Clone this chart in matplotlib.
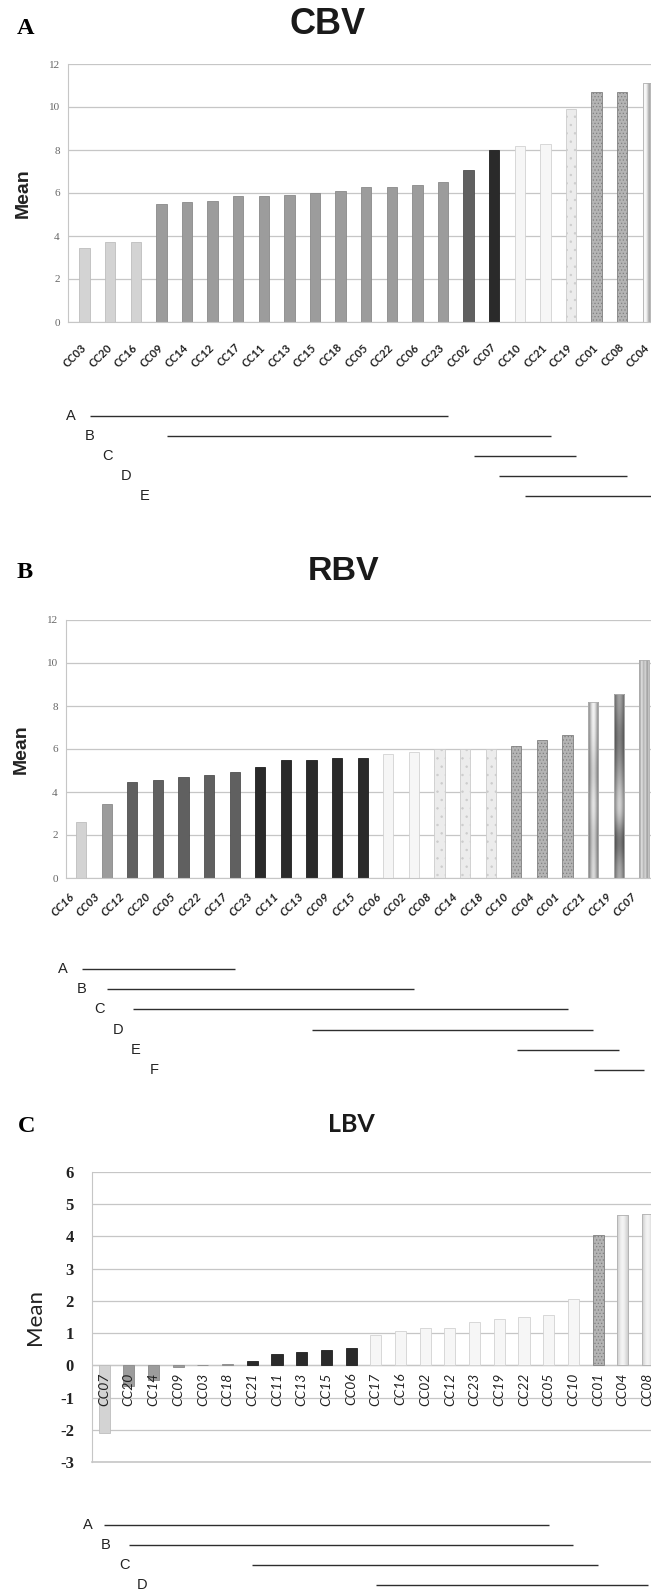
"""
CBV / RBV / LBV mean values per category, with homogeneous subset lines below.
"""

import numpy as np
import matplotlib.pyplot as plt
from matplotlib import transforms

# ── Data ──────────────────────────────────────────────────────
cbv_cats = ["CC03", "CC20", "CC16", "CC09", "CC14", "CC12", "CC17", "CC11",
            "CC13", "CC15", "CC18", "CC05", "CC22", "CC06", "CC23", "CC02",
            "CC07", "CC10", "CC21", "CC19", "CC01", "CC08", "CC04"]
cbv_vals = [3.45, 3.70, 3.72, 5.48, 5.60, 5.65, 5.84, 5.88, 5.93, 6.02, 6.10,
            6.29, 6.30, 6.38, 6.50, 7.07, 8.00, 8.20, 8.28, 9.92, 10.68, 10.72,
            11.10]
cbv_tone = ["light"] * 3 + ["mid"] * 12 + ["dark", "black", "white", "white",
                                          "marble", "speckle", "speckle", "hgrad"]
cbv_subsets = [("A", "CC03", "CC23"), ("B", "CC09", "CC21"), ("C", "CC02", "CC19"),
               ("D", "CC07", "CC08"), ("E", "CC10", "CC04")]

rbv_cats = ["CC16", "CC03", "CC12", "CC20", "CC05", "CC22", "CC17", "CC23",
            "CC11", "CC13", "CC09", "CC15", "CC06", "CC02", "CC08", "CC14",
            "CC18", "CC10", "CC04", "CC01", "CC21", "CC19", "CC07"]
rbv_vals = [2.61, 3.46, 4.47, 4.55, 4.72, 4.81, 4.92, 5.17, 5.51, 5.51, 5.56,
            5.56, 5.79, 5.85, 6.01, 6.01, 6.01, 6.13, 6.44, 6.66, 8.20, 8.54,
            10.14]
rbv_tone = ["light", "mid"] + ["dark"] * 5 + ["black"] * 5 + ["white"] * 2 + \
           ["marble"] * 3 + ["speckle"] * 3 + ["hgrad2", "vgrad", "stripes"]
rbv_subsets = [("A", "CC16", "CC17"), ("B", "CC03", "CC02"), ("C", "CC12", "CC01"),
               ("D", "CC13", "CC21"), ("E", "CC10", "CC19"), ("F", "CC21", "CC07")]

lbv_cats = ["CC07", "CC20", "CC14", "CC09", "CC03", "CC18", "CC21", "CC11",
            "CC13", "CC15", "CC06", "CC17", "CC16", "CC02", "CC12", "CC23",
            "CC19", "CC22", "CC05", "CC10", "CC01", "CC04", "CC08"]
lbv_vals = [-2.10, -0.65, -0.45, -0.05, 0.0, 0.03, 0.12, 0.36, 0.40, 0.47, 0.54,
            0.95, 1.08, 1.16, 1.16, 1.34, 1.44, 1.50, 1.56, 2.06, 4.03, 4.67, 4.70]
lbv_tone = ["light", "mid", "mid", "mid", "mid", "mid"] + ["black"] * 5 + \
           ["white"] * 9 + ["speckle", "hgrad3", "hgrad3"]
lbv_subsets = [("A", "CC07", "CC05"), ("B", "CC20", "CC10"),
               ("C", "CC21", "CC01"), ("D", "CC17", "CC08")]

# ── Styles ────────────────────────────────────────────────────
W, H = 651, 1593
GRID = "#c6c6c6"
STYLES = {
    "light":   dict(fc="#d3d3d3", ec="#bdbdbd", hatch=None),
    "mid":     dict(fc="#9c9c9c", ec="#8a8a8a", hatch=None),
    "dark":    dict(fc="#606060", ec="#505050", hatch=None),
    "black":   dict(fc="#2a2a2a", ec="#1e1e1e", hatch=None),
    "white":   dict(fc="#f6f6f6", ec="#d2d2d2", hatch=None),
    "marble":  dict(fc="#ececec", ec="#cccccc", hatch=".."),
    "speckle": dict(fc="#b4b4b4", ec="#808080", hatch="....."),
}
# grey level profiles (across, along) for the shaded bars
GRADS = {
    "hgrad":   ([0.95, 1.0, 0.85, 0.6, 0.8, 0.95], [1.0]),
    "hgrad2":  ([0.55, 0.85, 1.0, 0.85, 0.55], [0.9, 0.8, 1.0, 0.8, 0.95, 1.0]),
    "vgrad":   ([0.6, 0.85, 0.95, 0.85, 0.6], [0.75, 0.35, 1.0, 0.8, 0.6, 0.5, 0.7]),
    "stripes": ([0.55, 1.0, 0.6, 0.95, 0.5, 0.9], [1.0]),
    "hgrad3":  ([0.82, 0.93, 0.97, 0.9, 0.8], [1.0]),
}

plt.rcParams["hatch.linewidth"] = 0.5
plt.rcParams["axes.unicode_minus"] = False

fig = plt.figure(figsize=(W / 100, H / 100), dpi=100)


def px_axes(left, top, bottom, xmin, xmax, spacing):
    width = (xmax - xmin) * spacing
    ax = fig.add_axes([left / W, 1 - bottom / H, width / W, (bottom - top) / H])
    ax.set_xlim(xmin, xmax)
    return ax


def draw_bars(ax, vals, tones, width):
    x = np.arange(len(vals))
    bars = ax.bar(x, vals, width=width, linewidth=0.6, zorder=2)
    xl, yl = ax.get_xlim(), ax.get_ylim()
    for b, t in zip(bars, tones):
        if t in STYLES:
            st = STYLES[t]
            b.set_facecolor(st["fc"])
            b.set_edgecolor(st["ec"])
            if st["hatch"]:
                b.set_hatch(st["hatch"])
        else:
            across, along = GRADS[t]
            img = np.outer(along, across)
            b.set_facecolor("none")
            b.set_edgecolor("#b0b0b0")
            bx, by = b.get_x(), b.get_y()
            im = ax.imshow(img, extent=[bx, bx + b.get_width(), by, by + b.get_height()],
                           origin="lower", cmap="gray", vmin=0, vmax=1, aspect="auto",
                           interpolation="bicubic", zorder=1.9)
            im.set_clip_path(b)
    ax.set_xlim(xl)
    ax.set_ylim(yl)


def style_frame(ax):
    ax.set_axisbelow(True)
    ax.grid(axis="y", color=GRID, linewidth=0.9)
    for s in ("top", "right"):
        ax.spines[s].set_visible(False)
    ax.spines["left"].set_color(GRID)
    ax.spines["bottom"].set_color(GRID)
    ax.tick_params(length=0)


def draw_subsets(ax, cats, subsets, y0, dy, lx0, ldx, off0, off1):
    trans = transforms.blended_transform_factory(ax.transData, fig.transFigure)
    for i, (name, c0, c1) in enumerate(subsets):
        y = y0 + dy * i
        x0 = cats.index(c0) + off0
        x1 = cats.index(c1) + off1
        ax.plot([x0, x1], [1 - y / H, 1 - y / H], transform=trans, color="#2e2e2e",
                linewidth=1.0, clip_on=False, solid_capstyle="butt")
        fig.text((lx0 + ldx * i) / W, 1 - y / H, name, ha="center", va="center",
                 fontsize=10.5, family="Liberation Sans", color="#222222")


# ── Panel A : CBV ─────────────────────────────────────────────
ax = px_axes(68, 64, 322, -0.65, 22.6, 25.6)
ax.set_ylim(0, 12)
ax.set_yticks(np.arange(0, 13, 2))
style_frame(ax)
draw_bars(ax, cbv_vals, cbv_tone, 0.41)
ax.set_xticks(np.arange(len(cbv_cats)))
ax.set_xticklabels(cbv_cats, rotation=45, ha="right", va="center",
                   rotation_mode="anchor", fontsize=8, fontweight="bold",
                   family="Lato", color="#222222")
ax.tick_params(axis="x", pad=17)
ax.tick_params(axis="y", pad=6, labelsize=8, labelcolor="#666666")
for lab in ax.get_yticklabels():
    lab.set_family("Liberation Serif")
fig.text(26 / W, 1 - 28 / H, "A", ha="center", va="center", fontsize=17.5,
         fontweight="bold", family="Liberation Serif")
fig.text(328 / W, 1 - 25 / H, "CBV", ha="center", va="center", fontsize=26,
         fontweight="bold", family="Liberation Sans", color="#1a1a1a")
fig.text(23 / W, 1 - 193 / H, "Mean", ha="center", va="center", rotation=90,
         fontsize=14, fontweight="bold", family="Liberation Sans", color="#222222")
draw_subsets(ax, cbv_cats, cbv_subsets, 416, 20, 71, 18.3, 0.2, 0.2)

# ── Panel B : RBV ─────────────────────────────────────────────
ax = px_axes(66, 620, 878, -0.59, 22.6, 25.6)
ax.set_ylim(0, 12)
ax.set_yticks(np.arange(0, 13, 2))
style_frame(ax)
draw_bars(ax, rbv_vals, rbv_tone, 0.40)
ax.set_xticks(np.arange(len(rbv_cats)))
ax.set_xticklabels(rbv_cats, rotation=45, ha="right", va="center",
                   rotation_mode="anchor", fontsize=8.5, fontweight="bold",
                   style="italic", family="Lato", color="#222222")
ax.tick_params(axis="x", pad=12)
for lab in ax.get_xticklabels():
    lab.set_transform(lab.get_transform() +
                      transforms.ScaledTranslation(-0.09, 0, fig.dpi_scale_trans))
ax.tick_params(axis="y", pad=6, labelsize=8, labelcolor="#666666")
for lab in ax.get_yticklabels():
    lab.set_family("Liberation Serif")
fig.text(25 / W, 1 - 572 / H, "B", ha="center", va="center", fontsize=17.5,
         fontweight="bold", family="Liberation Serif")
fig.text(344 / W, 1 - 571 / H, "RBV", ha="center", va="center", fontsize=24.5,
         fontweight="bold", family="Liberation Sans", color="#1a1a1a")
fig.text(21 / W, 1 - 749 / H, "Mean", ha="center", va="center", rotation=90,
         fontsize=14, fontweight="bold", family="Liberation Sans", color="#222222")
draw_subsets(ax, rbv_cats, rbv_subsets, 969, 20.2, 63, 18.2, 0.03, 0.0)

# ── Panel C : LBV ─────────────────────────────────────────────
ax = px_axes(92, 1172, 1462, -0.49, 22.6, 24.7)
ax.set_ylim(-3, 6)
ax.set_yticks(np.arange(-3, 7, 1))
style_frame(ax)
ax.spines["bottom"].set_visible(False)
ax.axhline(0, color=GRID, linewidth=0.9, zorder=1)
ax.axhline(-3, color=GRID, linewidth=1.2, zorder=1, clip_on=False)
draw_bars(ax, lbv_vals, lbv_tone, 0.45)
ax.set_xticks([])
lab_trans = transforms.offset_copy(ax.transData, fig=fig, y=-7, units="dots")
for i, name in enumerate(lbv_cats):
    ax.text(i, 0, name, transform=lab_trans, rotation=90, ha="center", va="top",
            fontsize=10, style="italic", family="Lato", color="#222222", zorder=3)
ax.tick_params(axis="y", pad=13, labelsize=12, labelcolor="#222222")
for lab in ax.get_yticklabels():
    lab.set_family("Liberation Serif")
    lab.set_fontweight("bold")
fig.text(27 / W, 1 - 1126 / H, "C", ha="center", va="center", fontsize=17.5,
         fontweight="bold", family="Liberation Serif")
fig.text(351 / W, 1 - 1124 / H, "LBV", ha="center", va="center", fontsize=18,
         fontweight="bold", family="Lato", color="#1a1a1a")
fig.text(35 / W, 1 - 1317 / H, "Mean", ha="center", va="center", rotation=90,
         fontsize=16, family="Lato", color="#222222")
draw_subsets(ax, lbv_cats, lbv_subsets, 1525, 20, 88, 18, 0.0, 0.0)

fig.savefig("out.png", dpi=100)
